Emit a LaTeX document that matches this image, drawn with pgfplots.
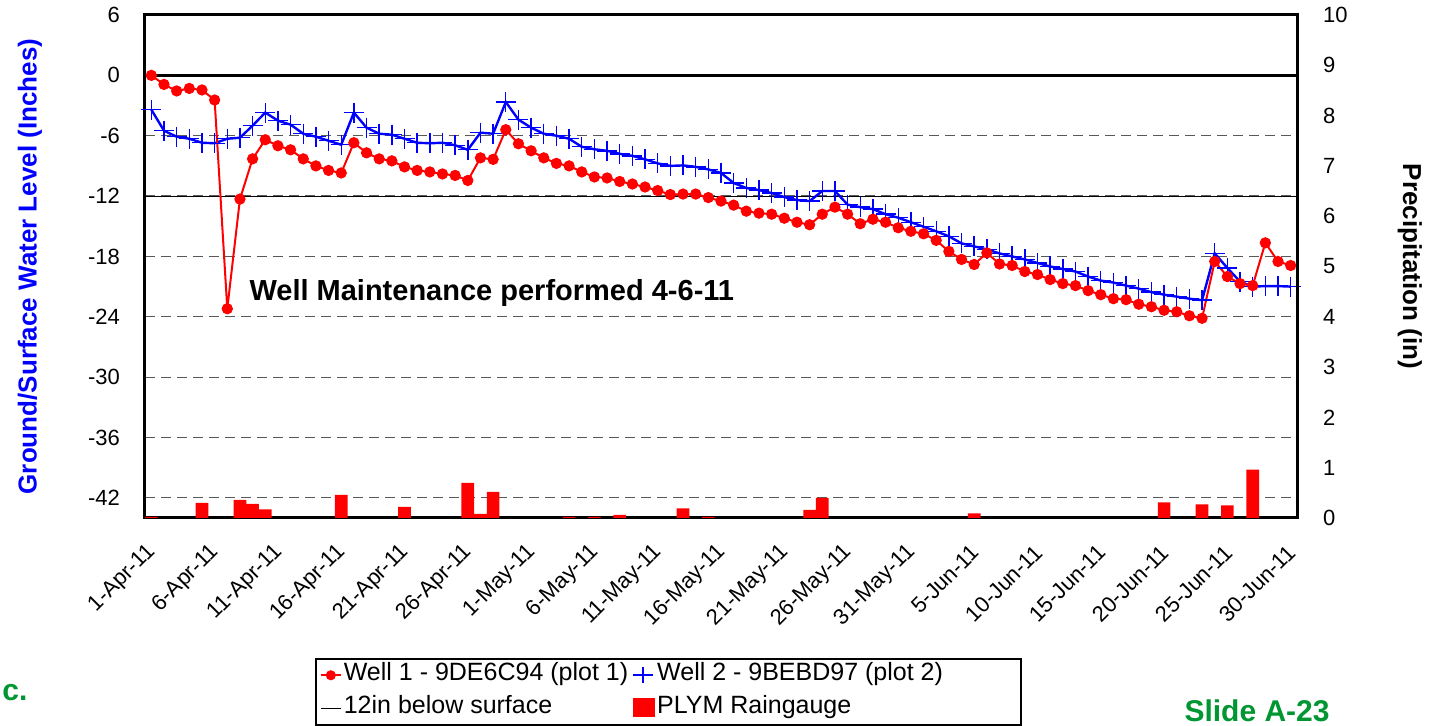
\documentclass[border=0pt]{standalone}
\usepackage{fontspec}
\setmainfont{Liberation Sans}
\usepackage{pgfplots}
\pgfplotsset{compat=1.18}
\definecolor{slidegreen}{RGB}{0,150,50}

\begin{document}
\begin{tikzpicture}
\pgfplotsset{
  base/.style={
    scale only axis, width=576pt, height=251.5pt,
    xmin=-0.5, xmax=90.5,
    major tick length=0pt,
    /pgf/number format/assume math mode=true,
    tick label style={font=\fontsize{11}{13}\selectfont},
    axis line style={line width=1.5pt},
  },
}
% left axis: water levels
\begin{axis}[base,
  ymin=-44, ymax=6, ytick={-42,-36,...,6},
  yticklabel style={xshift=-9pt},
  xtick={0,5,...,90},
  xticklabels={1-Apr-11,6-Apr-11,11-Apr-11,16-Apr-11,21-Apr-11,26-Apr-11,1-May-11,6-May-11,11-May-11,16-May-11,21-May-11,26-May-11,31-May-11,5-Jun-11,10-Jun-11,15-Jun-11,20-Jun-11,25-Jun-11,30-Jun-11},
  xticklabel style={yshift=-13pt, xshift=3pt, rotate=45, anchor=east},
  ymajorgrids,
  major grid style={black!65, line width=0.6pt, dash pattern=on 5pt off 3pt},
  extra y ticks={0}, extra y tick labels={},
  extra y tick style={grid=major, major grid style={solid, black, line width=1.5pt}},
  ylabel={Ground/Surface Water Level (Inches)},
  ylabel style={at={(axis description cs:-0.1,0.5)}, anchor=center,
    font=\fontsize{13}{15}\selectfont\bfseries, text=blue},
]
\addplot[black, line width=0.5pt] coordinates {(-0.5,-12) (90.5,-12)};
% Well 2
\addplot[blue, line width=1.2pt, mark=+, mark size=5pt, mark options={line width=0.7pt}] coordinates {
(0,-3.4) (1,-5.5) (2,-6.1) (3,-6.3) (4,-6.7) (5,-6.75) (6,-6.3) (7,-6.2) (8,-5.0) (9,-3.7)
(10,-4.5) (11,-4.9) (12,-5.8) (13,-6.1) (14,-6.5) (15,-6.9) (16,-3.7) (17,-5.2) (18,-5.8) (19,-5.9)
(20,-6.3) (21,-6.7) (22,-6.75) (23,-6.7) (24,-6.95) (25,-7.4) (26,-5.7) (27,-5.8) (28,-2.65) (29,-4.4)
(30,-5.2) (31,-5.8) (32,-6.0) (33,-6.3) (34,-7.1) (35,-7.35) (36,-7.5) (37,-7.8) (38,-8.0) (39,-8.35)
(40,-8.75) (41,-9.0) (42,-8.95) (43,-9.1) (44,-9.35) (45,-9.7) (46,-10.7) (47,-11.2) (48,-11.4) (49,-11.7)
(50,-12.1) (51,-12.4) (52,-12.5) (53,-11.5) (54,-11.5) (55,-12.85) (56,-13.1) (57,-13.3) (58,-13.8) (59,-14.15)
(60,-14.6) (61,-15.05) (62,-15.5) (63,-16.0) (64,-16.7) (65,-17.0) (66,-17.3) (67,-17.7) (68,-18.0) (69,-18.3)
(70,-18.65) (71,-19.0) (72,-19.25) (73,-19.5) (74,-20.0) (75,-20.4) (76,-20.6) (77,-20.9) (78,-21.2) (79,-21.55)
(80,-21.8) (81,-22.0) (82,-22.2) (83,-22.35) (84,-17.7) (85,-19.15) (86,-20.5) (87,-21.0) (88,-20.95) (89,-20.95)
(90,-21.0)
};
% Well 1
\addplot[red, line width=1pt, mark=*, mark size=2.3pt] coordinates {
(0,0) (1,-0.9) (2,-1.55) (3,-1.3) (4,-1.45) (5,-2.45) (6,-23.2) (7,-12.3) (8,-8.3) (9,-6.4)
(10,-7.0) (11,-7.4) (12,-8.3) (13,-9.0) (14,-9.45) (15,-9.7) (16,-6.7) (17,-7.7) (18,-8.3) (19,-8.5)
(20,-9.1) (21,-9.45) (22,-9.6) (23,-9.8) (24,-9.95) (25,-10.45) (26,-8.2) (27,-8.35) (28,-5.4) (29,-6.8)
(30,-7.5) (31,-8.2) (32,-8.75) (33,-9.0) (34,-9.6) (35,-10.1) (36,-10.2) (37,-10.55) (38,-10.8) (39,-11.1)
(40,-11.45) (41,-11.85) (42,-11.8) (43,-11.8) (44,-12.15) (45,-12.5) (46,-12.9) (47,-13.5) (48,-13.7) (49,-13.8)
(50,-14.2) (51,-14.6) (52,-14.85) (53,-13.8) (54,-13.1) (55,-13.8) (56,-14.75) (57,-14.3) (58,-14.6) (59,-15.15)
(60,-15.5) (61,-15.75) (62,-16.4) (63,-17.5) (64,-18.3) (65,-18.8) (66,-17.65) (67,-18.75) (68,-18.9) (69,-19.5)
(70,-19.8) (71,-20.3) (72,-20.7) (73,-20.9) (74,-21.4) (75,-21.8) (76,-22.2) (77,-22.3) (78,-22.75) (79,-23.0)
(80,-23.35) (81,-23.5) (82,-23.9) (83,-24.15) (84,-18.5) (85,-20.0) (86,-20.7) (87,-20.9) (88,-16.65) (89,-18.5)
(90,-18.9)
};
\node[anchor=west, font=\fontsize{14.5}{16}\selectfont\bfseries] at (axis cs:7.2,-21.6) {Well Maintenance performed 4-6-11};
\end{axis}

% right axis: precipitation
\begin{axis}[base,
  hide x axis, axis y line*=right,
  ymin=0, ymax=10, ytick={0,1,...,10},
  yticklabel style={anchor=west, xshift=9.5pt},
  ylabel={Precipitation (in)},
  ylabel style={at={(axis description cs:1.098,0.5)}, anchor=center, rotate=180,
    font=\fontsize{13}{15}\selectfont\bfseries},
  legend columns=2, legend cell align=left,
  legend image code/.code={\draw[mark repeat=2,mark phase=2] plot coordinates {(0pt,0pt) (5pt,0pt) (10pt,0pt)};},
  legend style={at={(axis description cs:0.1476,-0.2783)}, anchor=north west,
    draw=black, line width=0.8pt, font=\fontsize{12.5}{14}\selectfont,
    inner xsep=2pt, inner ysep=1.5pt, row sep=3pt,
    nodes={inner sep=1pt, text height=8.5pt, text depth=3pt},
    /tikz/every even column/.append style={column sep=1pt}},
]
\addlegendimage{red, line width=1pt, mark=*, mark size=2pt}
\addlegendentry{Well 1 - 9DE6C94 (plot 1)}
\addlegendimage{blue, line width=1pt, mark=+, mark size=4pt}
\addlegendentry{Well 2 - 9BEBD97 (plot 2)\hspace{36pt}\null}
\addlegendimage{black, line width=0.5pt}
\addlegendentry{12in below surface}
\addplot[ybar, bar width=1, fill=red, draw=none,
  legend image code/.code={\fill[red] (0pt,-4.5pt) rectangle (11pt,5pt);}] coordinates {
(0,0.02) (4,0.30) (7,0.36) (8,0.28) (9,0.17) (15,0.46) (20,0.22) (25,0.70) (26,0.08) (27,0.52)
(33,0.02) (35,0.02) (37,0.06) (42,0.19) (44,0.02) (52,0.16) (53,0.40) (65,0.09) (80,0.31) (83,0.27)
(85,0.25) (87,0.96)
};
\addlegendentry{PLYM Raingauge}
\end{axis}

\node[anchor=west, inner sep=0pt, font=\fontsize{15}{17}\selectfont\bfseries, text=slidegreen] at (-71.5pt,-87.5pt) {c.};
\node[anchor=east, inner sep=0pt, font=\fontsize{15}{17}\selectfont\bfseries, text=slidegreen] at (592.5pt,-96.5pt) {Slide A-23};

\pgfresetboundingbox
\path (-72.5pt,-104pt) rectangle (648.5pt,259pt);
\end{tikzpicture}
\end{document}
